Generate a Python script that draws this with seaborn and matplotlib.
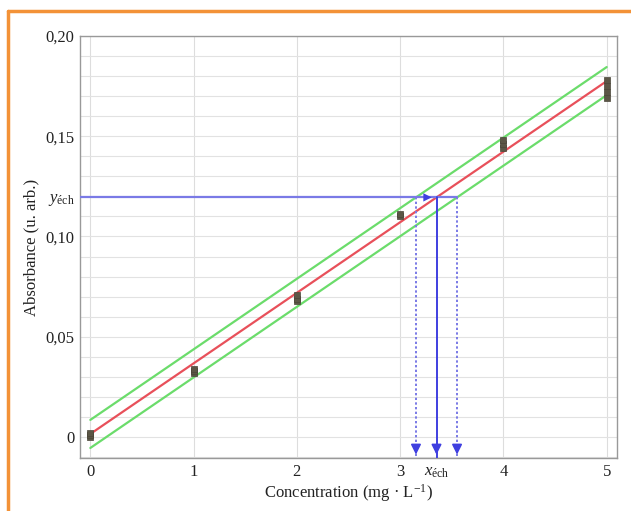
import numpy as np
import pandas as pd
import matplotlib
matplotlib.use("Agg")
import matplotlib.pyplot as plt
from matplotlib.lines import Line2D
from matplotlib.ticker import MultipleLocator
import seaborn as sns

# Calibration measurements (replicates per standard)
conc = [0, 0, 0, 1, 1, 1, 2, 2, 2, 3, 3, 4, 4, 4, 5, 5, 5, 5]
absorb = [0.000, 0.001, 0.002, 0.032, 0.033, 0.034, 0.068, 0.069, 0.071,
          0.110, 0.111, 0.144, 0.146, 0.148, 0.169, 0.172, 0.175, 0.178]

# Regression line and confidence band half-width
slope = 0.0352
intercept = 0.0015
band = 0.007

# Sample absorbance
y_ech = 0.1195

y_ticks = [0, 0.05, 0.10, 0.15, 0.20]
y_tick_labels = ["0", "0,05", "0,10", "0,15", "0,20"]
x_ticks = [0, 1, 2, 3, 4, 5]
x_tick_labels = ["0", "1", "2", "3", "4", "5"]

sns.set_style("white")
plt.rcParams["font.family"] = ["Liberation Serif", "DejaVu Serif"]
plt.rcParams["mathtext.fontset"] = "custom"
plt.rcParams["mathtext.rm"] = "Liberation Serif"
plt.rcParams["mathtext.it"] = "Liberation Serif:italic"

fig = plt.figure(figsize=(6.31, 5.11), dpi=100)
ax = fig.add_axes([80 / 631, 53 / 511, 537 / 631, 422 / 511])

red = "#e8505a"
green = "#6bdc6b"
blue = "#3f3fe0"
blue_light = "#7a7ae6"

xmin, xmax = -0.1, 5.1
ymin, ymax = -0.0105, 0.20

xx = np.array([0.0, 5.0])
line_df = pd.DataFrame({
    "x": np.concatenate([xx, xx, xx]),
    "y": np.concatenate([slope * xx + intercept,
                         slope * xx + intercept + band,
                         slope * xx + intercept - band]),
    "kind": ["fit"] * 2 + ["upper"] * 2 + ["lower"] * 2,
})
sns.lineplot(data=line_df, x="x", y="y", hue="kind",
             palette={"fit": red, "upper": green, "lower": green},
             linewidth=1.6, legend=False, ax=ax, zorder=3)

pts = pd.DataFrame({"c": conc, "a": absorb})
sns.scatterplot(data=pts, x="c", y="a", marker="s", s=14, color="#5b5646",
                edgecolor="#4a4538", linewidth=0.5, ax=ax, zorder=4)

# Inverse prediction from the sample absorbance
x_ech = (y_ech - intercept) / slope
x_lo = (y_ech - intercept - band) / slope
x_hi = (y_ech - intercept + band) / slope
x_lo, x_hi = min(x_lo, x_hi), max(x_lo, x_hi)

ax.plot([xmin, x_hi], [y_ech, y_ech], color=blue_light, lw=1.6, zorder=5)
ax.plot([x_ech, x_ech], [y_ech, ymin], color=blue, lw=1.4, zorder=5)
for xv in (x_lo, x_hi):
    ax.plot([xv, xv], [y_ech, ymin], color=blue_light, lw=1.4,
            linestyle=(0, (1.2, 1.2)), zorder=5)
for xv in (x_lo, x_ech, x_hi):
    ax.annotate("", xy=(xv, ymin + 0.0003), xytext=(xv, ymin + 0.006),
                arrowprops=dict(arrowstyle="-|>,head_length=0.6,head_width=0.3",
                                color=blue, lw=1.2), zorder=6)
ax.annotate("", xy=(x_ech - 0.02, y_ech), xytext=(x_ech - 0.2, y_ech),
            arrowprops=dict(arrowstyle="-|>,head_length=0.6,head_width=0.3",
                            color=blue, lw=0.0), zorder=6)

ax.set_xlim(xmin, xmax)
ax.set_ylim(ymin, ymax)

ax.set_yticks(y_ticks + [y_ech])
ax.set_yticklabels(y_tick_labels + [r"$y_{\mathrm{éch}}$"], fontsize=12)
ax.set_xticks(x_ticks + [x_ech])
ax.set_xticklabels(x_tick_labels + [r"$x_{\mathrm{éch}}$"], fontsize=12)
ax.xaxis.set_minor_locator(MultipleLocator(0.1))
ax.yaxis.set_minor_locator(MultipleLocator(0.01))

ax.tick_params(axis="both", which="major", direction="in", length=10,
               width=1.0, color="#888888", pad=4, labelcolor="#222222")
ax.tick_params(axis="y", which="minor", direction="in", length=12,
               width=0.8, color="#aaaaaa")
ax.tick_params(axis="x", which="minor", direction="in", length=6,
               width=0.8, color="#999999")
# no tick marks for the sample annotations
ax.xaxis.get_major_ticks()[-1].tick1line.set_visible(False)
ax.yaxis.get_major_ticks()[-1].tick1line.set_visible(False)

ax.grid(True, which="minor", axis="y", color="#e2e2e2", lw=0.8)
ax.grid(True, which="major", axis="y", color="#e2e2e2", lw=0.8)
ax.grid(True, which="major", axis="x", color="#dddddd", lw=0.8)
ax.xaxis.get_major_ticks()[-1].gridline.set_visible(False)
ax.yaxis.get_major_ticks()[-1].gridline.set_visible(False)
ax.set_axisbelow(True)

for sp in ax.spines.values():
    sp.set_color("#999999")
    sp.set_linewidth(1.0)

ax.set_xlabel("Concentration (mg · L$^{-1}$)", fontsize=12, color="#222222",
              labelpad=2)
ax.set_ylabel("Absorbance (u. arb.)", fontsize=12, color="#222222", labelpad=4)

# Orange page frame
orange = "#f39237"
fig.add_artist(Line2D([8 / 631, 8 / 631], [0, 1 - 11 / 511], color=orange,
                      lw=2.5, transform=fig.transFigure))
fig.add_artist(Line2D([8 / 631, 1], [1 - 11 / 511, 1 - 11 / 511], color=orange,
                      lw=2.5, transform=fig.transFigure))

fig.savefig("out.png", dpi=100)
